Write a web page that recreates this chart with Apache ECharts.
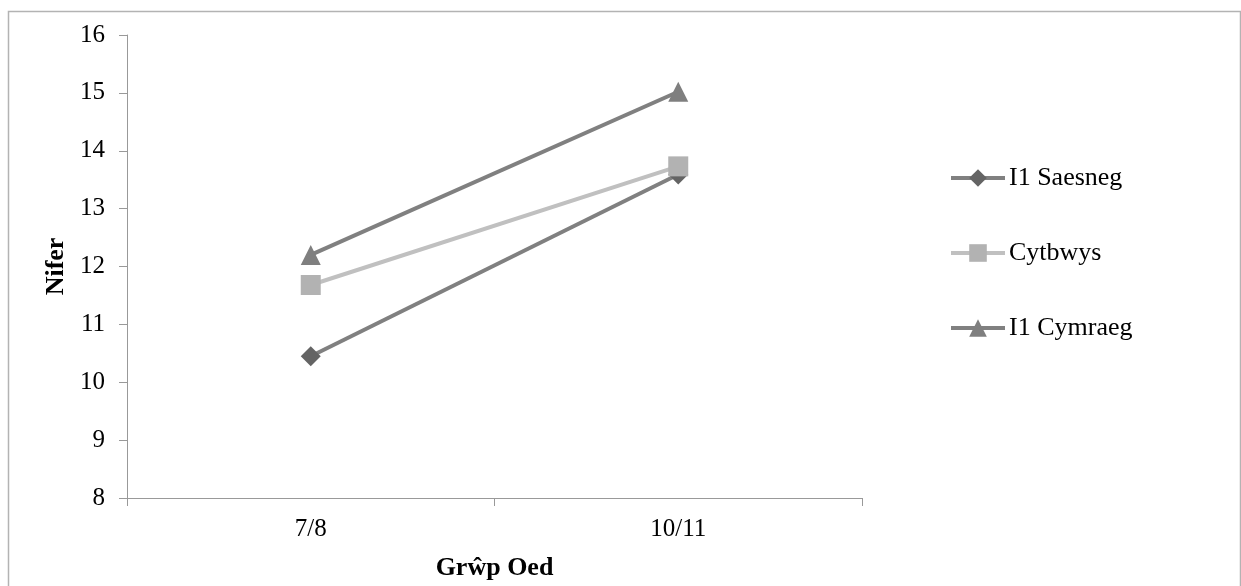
<!DOCTYPE html>
<html>
<head>
<meta charset="utf-8">
<script src="https://cdn.jsdelivr.net/npm/echarts@6/dist/echarts.min.js"></script>
<style>
html,body{margin:0;padding:0;background:#fff;}
#c{width:1241px;height:586px;}
</style>
</head>
<body>
<div id="c"></div>
<script>
const categories = ['7/8', '10/11'];
const seriesNames = ['I1 Saesneg', 'Cytbwys', 'I1 Cymraeg'];
const saesneg = [10.45, 13.59];
const cytbwys = [11.68, 13.73];
const cymraeg = [12.2, 15.02];
const yMin = 8, yMax = 16, yStep = 1;

const FONT = '"Liberation Serif", "Times New Roman", serif';
const chart = echarts.init(document.getElementById('c'), null, {renderer: 'canvas'});
chart.setOption({
  animation: false,
  backgroundColor: '#fff',
  textStyle: {fontFamily: FONT},
  graphic: [{
    type: 'rect', left: 6, top: 9,
    shape: {width: 1232, height: 600},
    style: {fill: 'none', stroke: '#b3b3b3', lineWidth: 1.5}
  }],
  grid: {left: 127, right: 379, top: 35, bottom: 86},
  legend: {
    orient: 'vertical', left: 949, top: 165, padding: 0,
    itemWidth: 54, itemHeight: 22, itemGap: 49,
    lineStyle: {width: 4},
    textStyle: {fontFamily: FONT, fontSize: 26, lineHeight: 26, color: '#000', padding: [0,0,0,-1]},
    data: seriesNames
  },
  xAxis: {
    type: 'category', data: categories, boundaryGap: true,
    name: 'Grŵp Oed', nameLocation: 'middle', nameGap: 57,
    nameTextStyle: {fontFamily: FONT, fontSize: 26, fontWeight: 'bold', color: '#000'},
    axisLine: {lineStyle: {color: '#999', width: 1}},
    axisTick: {show: true, length: 8, alignWithLabel: false, lineStyle: {color: '#999'}},
    axisLabel: {fontFamily: FONT, fontSize: 25, color: '#000', margin: 19},
    splitLine: {show: false}
  },
  yAxis: {
    type: 'value', min: yMin, max: yMax, interval: yStep,
    name: 'Nifer', nameLocation: 'middle', nameGap: 57, nameRotate: 90,
    nameTextStyle: {fontFamily: FONT, fontSize: 26, fontWeight: 'bold', color: '#000'},
    axisLine: {show: true, lineStyle: {color: '#999', width: 1}},
    axisTick: {show: true, length: 8, lineStyle: {color: '#999'}},
    axisLabel: {fontFamily: FONT, fontSize: 25, color: '#000', margin: 22},
    splitLine: {show: false}
  },
  series: [
    {
      name: seriesNames[0], type: 'line', data: saesneg,
      symbol: 'diamond', symbolSize: 20,
      lineStyle: {color: '#808080', width: 4},
      itemStyle: {color: '#646464'}
    },
    {
      name: seriesNames[1], type: 'line', data: cytbwys,
      symbol: 'rect', symbolSize: 20,
      lineStyle: {color: '#c0c0c0', width: 4},
      itemStyle: {color: '#b2b2b2'}
    },
    {
      name: seriesNames[2], type: 'line', data: cymraeg,
      symbol: 'triangle', symbolSize: 20,
      lineStyle: {color: '#808080', width: 4},
      itemStyle: {color: '#7f7f7f'}
    }
  ]
});
</script>
</body>
</html>
